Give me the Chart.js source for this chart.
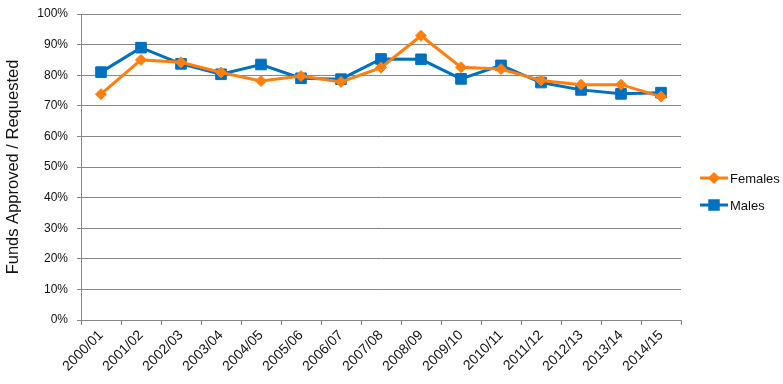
<!DOCTYPE html>
<html lang="en">
  <head>
    <meta charset="UTF-8" />
    <title>Funds Approved / Requested</title>
    <style>
      html, body { margin: 0; padding: 0; background: #fff; }
      .wrap { width: 783px; height: 384px; }
    </style>
  </head>
  <body>
    <div class="wrap"><canvas id="myChart" width="783" height="384"></canvas></div>
    <script src="https://cdn.jsdelivr.net/npm/chart.js"></script>
    <script>
      const labels = [
        "2000/01", "2001/02", "2002/03", "2003/04", "2004/05",
        "2005/06", "2006/07", "2007/08", "2008/09", "2009/10",
        "2010/11", "2011/12", "2012/13", "2013/14", "2014/15"
      ];
      const females = [73.8, 85.0, 84.2, 80.9, 78.1, 79.7, 77.8, 82.5, 92.9, 82.6, 82.0, 78.3, 76.9, 76.9, 73.0];
      const males = [81.0, 89.0, 83.7, 80.3, 83.5, 79.0, 78.7, 85.3, 85.2, 78.8, 83.2, 77.6, 75.2, 73.9, 74.3];

      const orange = "#ff7f0e";
      const blue = "#0070c0";
      const gridColor = "#868686";
      const textColor = "#111";

      // legend drawn by hand so it sits where the original one does
      const sideLegend = {
        id: "sideLegend",
        afterDraw(chart) {
          const c = chart.ctx;
          const x = 700;
          const rows = [178, 205];
          chart.data.datasets.forEach((ds, i) => {
            const y = rows[i];
            c.save();
            c.strokeStyle = ds.borderColor;
            c.lineWidth = 3;
            c.beginPath();
            c.moveTo(x, y);
            c.lineTo(x + 28, y);
            c.stroke();
            Chart.helpers.drawPoint(c, {
              pointStyle: ds.pointStyle,
              radius: ds.pointRadius - 1.5,
              borderWidth: 1
            }, x + 14, y);
            c.fillStyle = ds.borderColor;
            c.fill();
            c.fillStyle = textColor;
            c.font = "13px 'Liberation Sans'";
            c.textBaseline = "middle";
            c.fillText(ds.label, x + 30, y + 1);
            c.restore();
          });
        }
      };

      new Chart(document.getElementById("myChart"), {
        type: "line",
        data: {
          labels: labels,
          datasets: [
            {
              label: "Females",
              data: females,
              borderColor: orange,
              backgroundColor: orange,
              borderWidth: 3,
              pointStyle: "rectRot",
              pointRadius: 5.5,
              pointBorderWidth: 1,
              tension: 0
            },
            {
              label: "Males",
              data: males,
              borderColor: blue,
              backgroundColor: blue,
              borderWidth: 3,
              pointStyle: "rect",
              pointRadius: 7.5,
              pointBorderWidth: 1,
              tension: 0
            }
          ]
        },
        options: {
          responsive: false,
          animation: false,
          layout: { padding: { top: 14, right: 102, left: 0, bottom: 0 } },
          plugins: {
            legend: { display: false },
            tooltip: { enabled: false }
          },
          scales: {
            x: {
              offset: true,
              afterFit: s => { s.height = 64; },
              grid: {
                offset: true,
                drawOnChartArea: false,
                color: gridColor,
                tickLength: 5
              },
              border: { color: gridColor, width: 1 },
              ticks: {
                color: textColor,
                font: { family: "Liberation Sans", size: 14 },
                minRotation: 45,
                maxRotation: 45,
                autoSkip: false,
                padding: 2
              }
            },
            y: {
              min: 0,
              max: 100,
              afterFit: s => {
                s.width = 81;
                s.paddingTop = 0;
                s.paddingBottom = 0;
              },
              grid: { color: gridColor, tickLength: 4 },
              border: { color: gridColor, width: 1 },
              ticks: {
                stepSize: 10,
                color: textColor,
                font: { family: "Liberation Sans", size: 12 },
                padding: 9,
                callback: v => v + "%"
              },
              title: {
                display: true,
                text: "Funds Approved / Requested",
                color: textColor,
                font: { family: "Liberation Sans", size: 16.5 },
                padding: { top: 4, bottom: 6 }
              }
            }
          }
        },
        plugins: [sideLegend]
      });
    </script>
  </body>
</html>
